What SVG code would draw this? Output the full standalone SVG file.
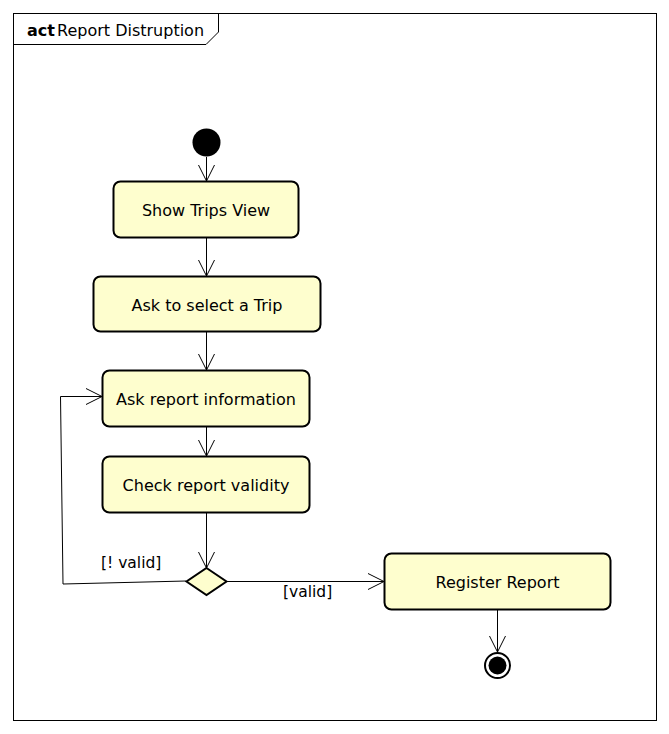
<svg xmlns="http://www.w3.org/2000/svg" width="669" height="734" viewBox="0 0 669 734">
<defs>
<style>
.frame{fill:#fff;stroke:#000;stroke-width:1}
.act{fill:#FEFECE;stroke:#000;stroke-width:2}
.lbl{font-family:"DejaVu Sans",sans-serif;font-size:16px;fill:#000;text-anchor:middle}
.guard{font-family:"DejaVu Sans",sans-serif;font-size:15.5px;fill:#000}
.edge{fill:none;stroke:#000;stroke-width:1}
</style>
<marker id="open" viewBox="0 0 20 20" refX="16" refY="10" markerWidth="20" markerHeight="20" markerUnits="userSpaceOnUse" orient="auto">
<path d="M0,2 L16,10 L0,18" fill="none" stroke="#000" stroke-width="1"/>
</marker>
</defs>
<rect width="669" height="734" fill="#fff"/>
<g id="frame">
<rect class="frame" x="13.5" y="13.5" width="643" height="707"/>
<path class="edge" d="M13.5,44.5 H206 L218.5,32 V13.5"/>
<text x="27" y="36" font-family="DejaVu Sans,sans-serif" font-size="16" font-weight="bold">act</text>
<text x="57" y="36" font-family="DejaVu Sans,sans-serif" font-size="16">Report Distruption</text>
</g>
<g id="connectors">
<path class="edge" d="M206.5,157 V181" marker-end="url(#open)"/>
<path class="edge" d="M206.5,237.5 V276" marker-end="url(#open)"/>
<path class="edge" d="M206.5,332 V370" marker-end="url(#open)"/>
<path class="edge" d="M206.5,426 V456" marker-end="url(#open)"/>
<path class="edge" d="M206.5,512 V568" marker-end="url(#open)"/>
<path class="edge" d="M226,581.5 H384" marker-end="url(#open)"/>
<path class="edge" d="M186,581 L63,584 L60.5,396.5 H102" marker-end="url(#open)"/>
<path class="edge" d="M497.5,609 V652" marker-end="url(#open)"/>
<text class="guard" x="101" y="568">[! valid]</text>
<text class="guard" x="283" y="597">[valid]</text>
</g>
<g id="start">
<circle cx="206.5" cy="142.5" r="14" fill="#000"/>
</g>
<g id="show-trips">
<rect class="act" x="113.5" y="181.5" width="185" height="56" rx="7"/>
<text class="lbl" x="206" y="216">Show Trips View</text>
</g>
<g id="ask-select">
<rect class="act" x="93.5" y="276.5" width="227" height="55" rx="7"/>
<text class="lbl" x="207" y="311">Ask to select a Trip</text>
</g>
<g id="ask-info">
<rect class="act" x="102.5" y="370.5" width="207" height="56" rx="7"/>
<text class="lbl" x="206" y="405">Ask report information</text>
</g>
<g id="check">
<rect class="act" x="102.5" y="456.5" width="207" height="56" rx="7"/>
<text class="lbl" x="206" y="491">Check report validity</text>
</g>
<g id="decision">
<path class="act" d="M206.5,568 L226.5,581.5 L206.5,595 L186.5,581.5 Z"/>
</g>
<g id="register">
<rect class="act" x="384.5" y="553.5" width="226" height="56" rx="7"/>
<text class="lbl" x="497.5" y="588">Register Report</text>
</g>
<g id="end">
<circle cx="497.5" cy="665.5" r="12.5" fill="#fff" stroke="#000" stroke-width="2"/>
<circle cx="497.5" cy="665.5" r="9" fill="#000"/>
</g>
</svg>
